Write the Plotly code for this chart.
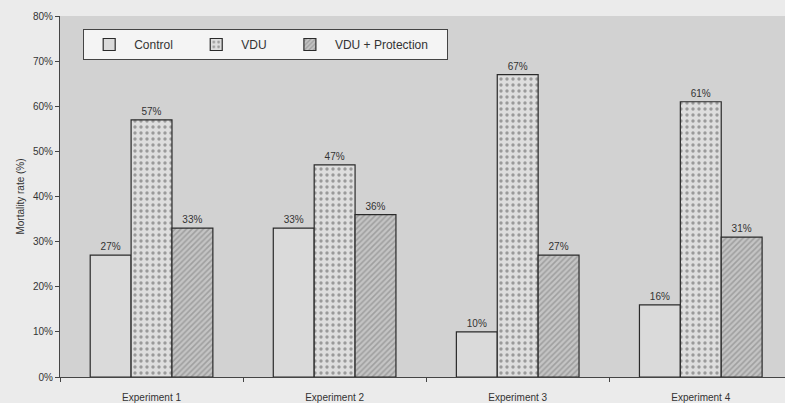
import plotly.graph_objects as go

categories = ["Experiment 1", "Experiment 2", "Experiment 3", "Experiment 4"]
control = [27, 33, 10, 16]
vdu = [57, 47, 67, 61]
vdu_protection = [33, 36, 27, 31]
series_names = ["Control", "VDU", "VDU + Protection"]
y_ticks = [0, 10, 20, 30, 40, 50, 60, 70, 80]
y_tick_labels = [f"{v}%" for v in y_ticks]

font = "Liberation Sans, Arial, sans-serif"
pad = "\u00a0" * 4

fig = go.Figure()
fig.add_trace(go.Bar(
    name=series_names[0] + pad, x=categories, y=control,
    marker=dict(color="#dadada", line=dict(color="#2a2a2a", width=1.2)),
    text=[f"{v}%" for v in control], textposition="outside",
    textfont=dict(size=10, color="#333333", family=font), cliponaxis=False,
))
fig.add_trace(go.Bar(
    name=series_names[1] + pad, x=categories, y=vdu,
    marker=dict(color="#e0e0e0", line=dict(color="#2a2a2a", width=1.2),
                pattern=dict(shape=".", fgcolor="#555555", bgcolor="#dedede", size=6, solidity=0.25)),
    text=[f"{v}%" for v in vdu], textposition="outside",
    textfont=dict(size=10, color="#333333", family=font), cliponaxis=False,
))
fig.add_trace(go.Bar(
    name=series_names[2] + "\u00a0" * 4, x=categories, y=vdu_protection,
    marker=dict(color="#b8b8b8", line=dict(color="#2a2a2a", width=1.2),
                pattern=dict(shape="/", fgcolor="#7a7a7a", bgcolor="#c4c4c4", size=4, solidity=0.4)),
    text=[f"{v}%" for v in vdu_protection], textposition="outside",
    textfont=dict(size=10, color="#333333", family=font), cliponaxis=False,
))

fig.update_layout(
    width=785, height=403,
    margin=dict(l=60, r=0, t=16, b=26),
    paper_bgcolor="#ebebeb",
    plot_bgcolor="#d2d2d2",
    barmode="group", bargap=0.33, bargroupgap=0,
    font=dict(family=font, size=10, color="#333333"),
    showlegend=True,
    legend=dict(
        orientation="h", x=0.032, y=0.964, xanchor="left", yanchor="top",
        bgcolor="#f4f4f4", bordercolor="#444444", borderwidth=1,
        font=dict(size=12, color="#333333", family=font),
        traceorder="normal", itemwidth=40,
    ),
    xaxis=dict(
        range=[-0.5, 3.46], showgrid=False, showline=True, linecolor="#444444", linewidth=1,
        ticks="outside", tickson="boundaries", ticklen=4, tickcolor="#444444",
        tickfont=dict(size=10, color="#333333"), ticklabelstandoff=11, automargin=False,
    ),
    yaxis=dict(
        range=[0, 80], tickvals=y_ticks, ticktext=y_tick_labels, showgrid=False,
        showline=True, linecolor="#444444", linewidth=1, ticks="outside", ticklen=4,
        tickcolor="#444444", tickfont=dict(size=10, color="#333333"), zeroline=False,
        automargin=False,
        title=dict(text="Mortality rate (%)", font=dict(size=10, color="#333333"), standoff=6),
    ),
)

fig.write_html(
    "out.html",
    config={"displayModeBar": False},
    post_script="document.body.style.margin='0';document.body.style.background='#ebebeb';document.body.style.overflow='hidden';",
)
